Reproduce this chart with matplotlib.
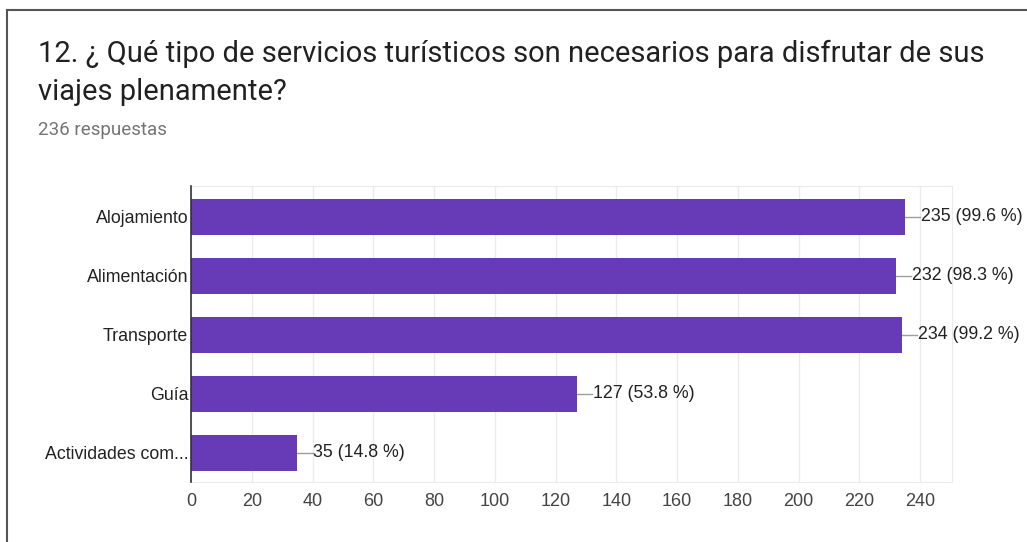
import matplotlib
matplotlib.use("Agg")
import matplotlib.pyplot as plt
from matplotlib.lines import Line2D

# data
categories = ["Alojamiento", "Alimentación", "Transporte", "Guía", "Actividades com..."]
counts = [235, 232, 234, 127, 35]
percents = [99.6, 98.3, 99.2, 53.8, 14.8]
xticks = list(range(0, 241, 20))

purple = "#673ab7"
fig = plt.figure(figsize=(10.27, 5.42), dpi=100)
ax = fig.add_axes([0.186, 0.1107, 0.741, 0.546])

ypos = list(range(len(categories)))
ax.barh(ypos, counts, height=0.61, color=purple, zorder=3)
ax.set_ylim(len(categories) - 0.5, -0.52)
ax.set_xlim(0, 250.5)

# value labels with small leader line
for y, c, p in zip(ypos, counts, percents):
    ax.plot([c, c + 5], [y, y], color="#9e9e9e", lw=1, zorder=2)
    ax.text(c + 5.2, y, f"{c} ({p} %)", va="center", ha="left",
            fontsize=12.8, family="Liberation Sans", color="#222222")

ax.set_yticks(ypos)
ax.set_yticklabels(categories, family="Liberation Sans", fontsize=12.8, color="#222222")
ax.set_xticks(xticks)
ax.set_xticklabels([str(t) for t in xticks], family="Liberation Sans", fontsize=13, color="#444444")
ax.tick_params(axis="both", length=0)
ax.tick_params(axis="y", pad=2)
ax.tick_params(axis="x", pad=8)
ax.grid(axis="x", color="#ebebeb", lw=1, zorder=0)

for s in ["top", "right", "bottom"]:
    ax.spines[s].set_color("#ebebeb")
ax.spines["left"].set_color("#333333")
ax.spines["left"].set_linewidth(1.2)
ax.spines["left"].set_zorder(4)

# title and subtitle
fig.text(38 / 1027, 1 - 62 / 542, "12. ¿ Qué tipo de servicios turísticos son necesarios para disfrutar de sus",
         family="Roboto", fontsize=21, color="#212121", va="baseline", ha="left")
fig.text(38 / 1027, 1 - 100 / 542, "viajes plenamente?",
         family="Roboto", fontsize=21, color="#212121", va="baseline", ha="left")
fig.text(38 / 1027, 1 - 135 / 542, "236 respuestas", family="Roboto", fontsize=13.5,
         color="#757575", va="baseline", ha="left")

# card border (left and top)
fig.add_artist(Line2D([7 / 1027, 7 / 1027], [0, 1 - 10 / 542], transform=fig.transFigure, color="#555555", lw=1.5))
fig.add_artist(Line2D([7 / 1027, 1], [1 - 10 / 542, 1 - 10 / 542], transform=fig.transFigure, color="#555555", lw=1.5))

fig.savefig("out.png", dpi=100)
